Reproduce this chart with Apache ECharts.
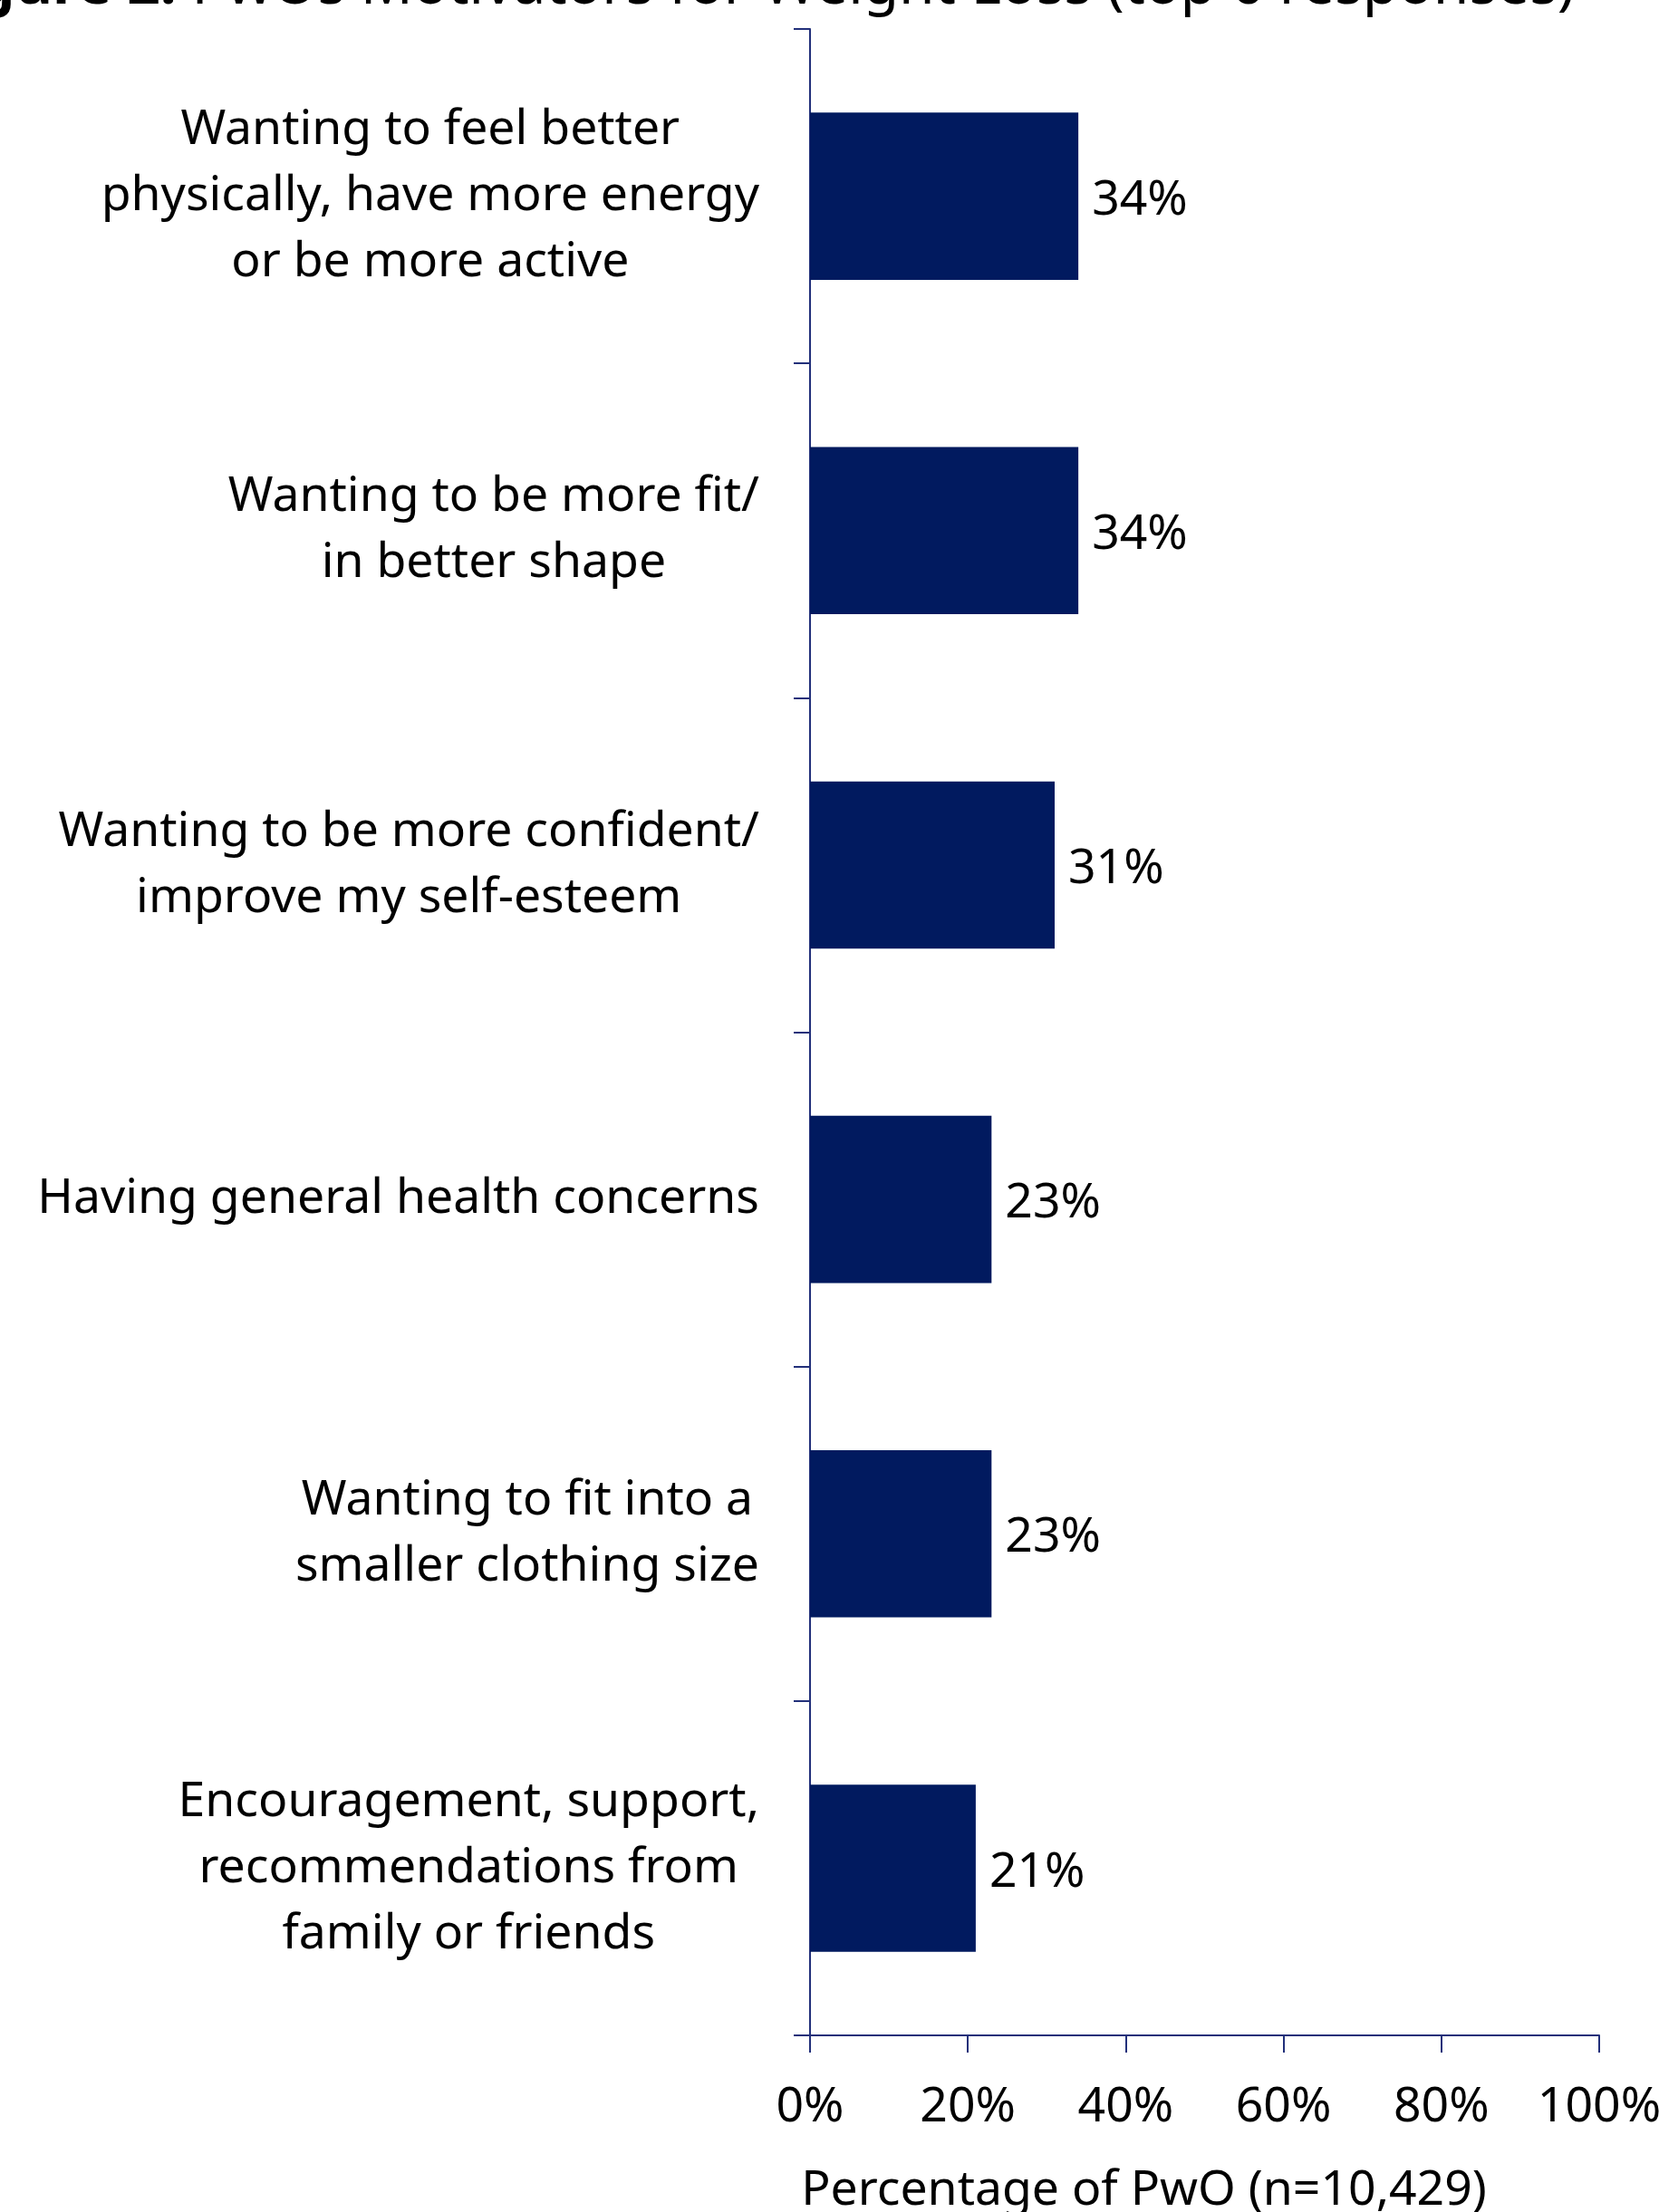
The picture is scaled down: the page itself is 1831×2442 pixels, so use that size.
<!DOCTYPE html>
<html>
<head>
<meta charset="utf-8">
<title>PwOs Motivators for Weight Loss</title>
<script src="https://cdn.jsdelivr.net/npm/echarts@6/dist/echarts.min.js"></script>
<style>
    html, body {
        margin: 0;
        padding: 0;
        background: #ffffff;
    }
    #chart {
        width: 1831px;
        height: 2442px;
    }
</style>
</head>
<body>
<div id="chart"></div>
<script>
    // data
    const categories = [
        'Wanting to feel better\nphysically, have more energy\nor be more active',
        'Wanting to be more fit/\nin better shape',
        'Wanting to be more confident/\nimprove my self-esteem',
        'Having general health concerns',
        'Wanting to fit into a\nsmaller clothing size',
        'Encouragement, support,\nrecommendations from\nfamily or friends'
    ]
    const percentValues = [34, 34, 31, 23, 23, 21]
    const xTicks = [0, 20, 40, 60, 80, 100]

    const FONT = '"Noto Sans", "Open Sans", sans-serif'
    const FONT_SIZE = 53.5
    const AXIS_COLOR = '#22307a'
    const BAR_COLOR = '#011a5f'

    const chart = echarts.init(document.getElementById('chart'))

    const options = {
        animation: false,
        backgroundColor: '#ffffff',
        textStyle: {
            fontFamily: FONT
        },
        graphic: [
            {
                // title is cut off by the top edge in the reference
                type: 'text',
                right: 1831 - 1738,
                top: -46,
                style: {
                    text: '{b|Figure 2.} PwOs Motivators for Weight Loss (top 6 responses)',
                    fontFamily: FONT,
                    fontSize: 64,
                    fill: '#000000',
                    rich: {
                        b: {
                            fontFamily: FONT,
                            fontSize: 64,
                            fontWeight: 'bold'
                        }
                    }
                }
            }
        ],
        grid: {
            left: 894,
            right: 66,
            top: 32,
            bottom: 195,
            containLabel: false,
            outerBoundsMode: 'none'
        },
        xAxis: {
            type: 'value',
            min: xTicks[0],
            max: xTicks[xTicks.length - 1],
            interval: 20,
            name: 'Percentage of PwO (n=10,429)',
            nameLocation: 'middle',
            nameGap: 145,
            nameTextStyle: {
                fontFamily: FONT,
                fontSize: FONT_SIZE,
                color: '#000000',
                padding: [0, 134, 0, 0]
            },
            axisLine: {
                show: true,
                lineStyle: { color: AXIS_COLOR, width: 2 }
            },
            axisTick: {
                show: true,
                inside: false,
                length: 19,
                lineStyle: { color: AXIS_COLOR, width: 2 }
            },
            axisLabel: {
                margin: 53,
                fontFamily: FONT,
                fontSize: FONT_SIZE,
                color: '#000000',
                formatter: '{value}%'
            },
            splitLine: { show: false }
        },
        yAxis: {
            type: 'category',
            inverse: true,
            data: categories,
            axisLine: {
                show: true,
                lineStyle: { color: AXIS_COLOR, width: 2 }
            },
            axisTick: {
                show: true,
                inside: false,
                length: 18,
                lineStyle: { color: AXIS_COLOR, width: 2 }
            },
            axisLabel: {
                margin: 56,
                align: 'right',
                fontFamily: FONT,
                fontSize: FONT_SIZE,
                lineHeight: 73,
                color: '#000000',
                formatter: value => value.split('\n').map(line => '{c|' + line + '}').join('\n'),
                rich: {
                    c: {
                        align: 'center',
                        fontFamily: FONT,
                        fontSize: FONT_SIZE,
                        lineHeight: 73,
                        color: '#000000'
                    }
                }
            },
            splitLine: { show: false }
        },
        series: [
            {
                type: 'bar',
                data: percentValues,
                barWidth: '50%',
                itemStyle: {
                    color: BAR_COLOR
                },
                label: {
                    show: true,
                    position: 'right',
                    distance: 15,
                    offset: [0, 5],
                    fontFamily: FONT,
                    fontSize: FONT_SIZE,
                    color: '#000000',
                    formatter: '{c}%'
                }
            }
        ]
    }

    chart.setOption(options)
</script>
</body>
</html>
